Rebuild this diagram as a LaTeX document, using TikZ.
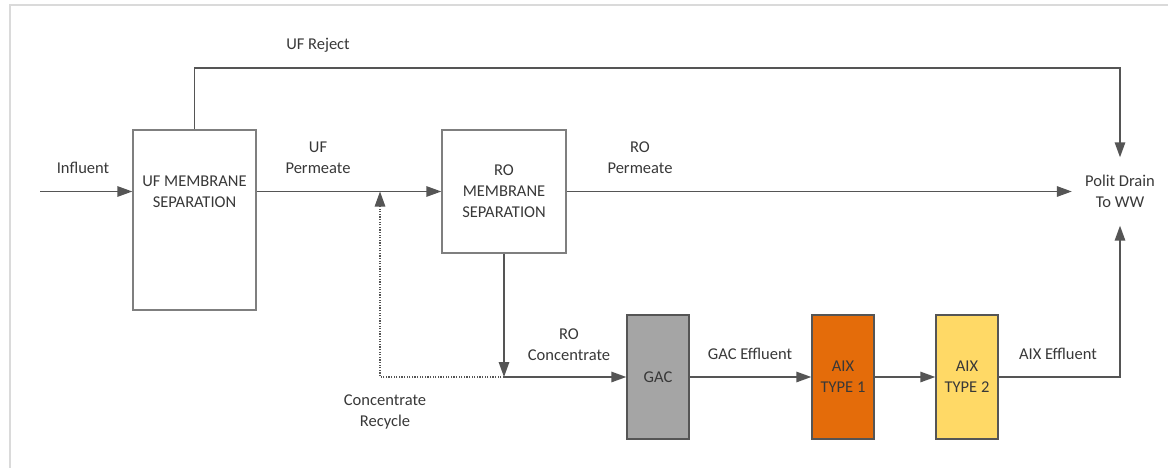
\documentclass[tikz,border=0pt]{standalone}
\usepackage{fontspec}
\setmainfont{Carlito}
\usetikzlibrary{arrows.meta}
\definecolor{linegray}{HTML}{555555}
\definecolor{boxgray}{HTML}{7F7F7F}
\definecolor{txtgray}{HTML}{383838}
\definecolor{gacfill}{HTML}{A5A5A5}
\definecolor{aixorange}{HTML}{E46C0A}
\definecolor{aixyellow}{HTML}{FFD966}
\definecolor{framegray}{HTML}{DADADA}
\tikzset{
  txt/.style={font=\fontsize{16.5}{21}\selectfont, text=txtgray, align=center, inner sep=0pt},
  unit/.style={draw=boxgray, line width=1.4pt, rectangle, inner sep=0pt},
  flow/.style={draw=linegray, line width=1.5pt, -{Triangle[length=15pt,width=10.5pt]}},
  recycle/.style={draw=linegray, line width=1.3pt, dash pattern=on 1.3pt off 1.3pt,
    -{Triangle[length=15pt,width=10.5pt]}}
}
\begin{document}
\begin{tikzpicture}[x=1pt,y=-1pt]
  \useasboundingbox (0,0) rectangle (1168,468);
  % page edge
  \draw[framegray, line width=2pt] (10,468) -- (10,5) -- (1168,5);

  % process units
  \node[unit, minimum width=123pt, minimum height=180pt] (uf) at (194.5,220) {};
  \node[txt] (uftxt) at (194.5,192) {UF MEMBRANE\\SEPARATION};
  \node[unit, minimum width=124pt, minimum height=123pt, txt] (ro) at (504,191.5) {RO\\MEMBRANE\\SEPARATION};
  \node[unit, fill=gacfill, draw=linegray, minimum width=62pt, minimum height=124pt, txt] (gac) at (658,377) {GAC};
  \node[unit, fill=aixorange, draw=linegray, minimum width=62pt, minimum height=124pt, txt] (aixa) at (843,377) {AIX\\TYPE 1};
  \node[unit, fill=aixyellow, draw=linegray, minimum width=62pt, minimum height=124pt, txt] (aixb) at (967,377) {AIX\\TYPE 2};
  \node[txt, minimum width=96pt, minimum height=68pt] (drain) at (1120,191.5) {Polit Drain\\To WW};

  % junction points
  \coordinate (inlet) at (40,191.5);
  \coordinate (junc) at (ro.south |- gac.west);
  \coordinate (rejtop) at (uf.north |- 0,68);
  \coordinate (rejend) at (drain.north |- 0,68);

  % stream labels
  \node[txt] (lreject) at (318,45) {UF Reject};
  \node[txt] (linfl) at (83,168) {Influent};
  \node[txt] (lufp) at (318,157.5) {UF\\Permeate};
  \node[txt] (lrop) at (640,157.5) {RO\\Permeate};
  \node[txt] (lroc) at (569,344.5) {RO\\Concentrate};
  \node[txt] (lgac) at (750,354) {GAC Effluent};
  \node[txt] (laix) at (1058,354) {AIX Effluent};
  \node[txt] (lrec) at (385,412) {Concentrate\\Recycle};

  % streams
  \draw[flow] (inlet) -- (uf.west |- inlet);
  \draw[flow] (uf.east |- ro.west) -- (ro.west);
  \draw[flow] (ro.east) -- (drain.west);
  \draw[flow] (uf.north) -- (rejtop) -- (rejend) -- (drain.north);
  \draw[flow] (ro.south) -- (junc);
  \draw[flow] (junc) -- (gac.west);
  \draw[recycle] (junc) -| (380,191.5);
  \draw[flow] (gac.east) -- (aixa.west);
  \draw[flow] (aixa.east) -- (aixb.west);
  \draw[flow] (aixb.east) -| (drain.south);
\end{tikzpicture}
\end{document}
